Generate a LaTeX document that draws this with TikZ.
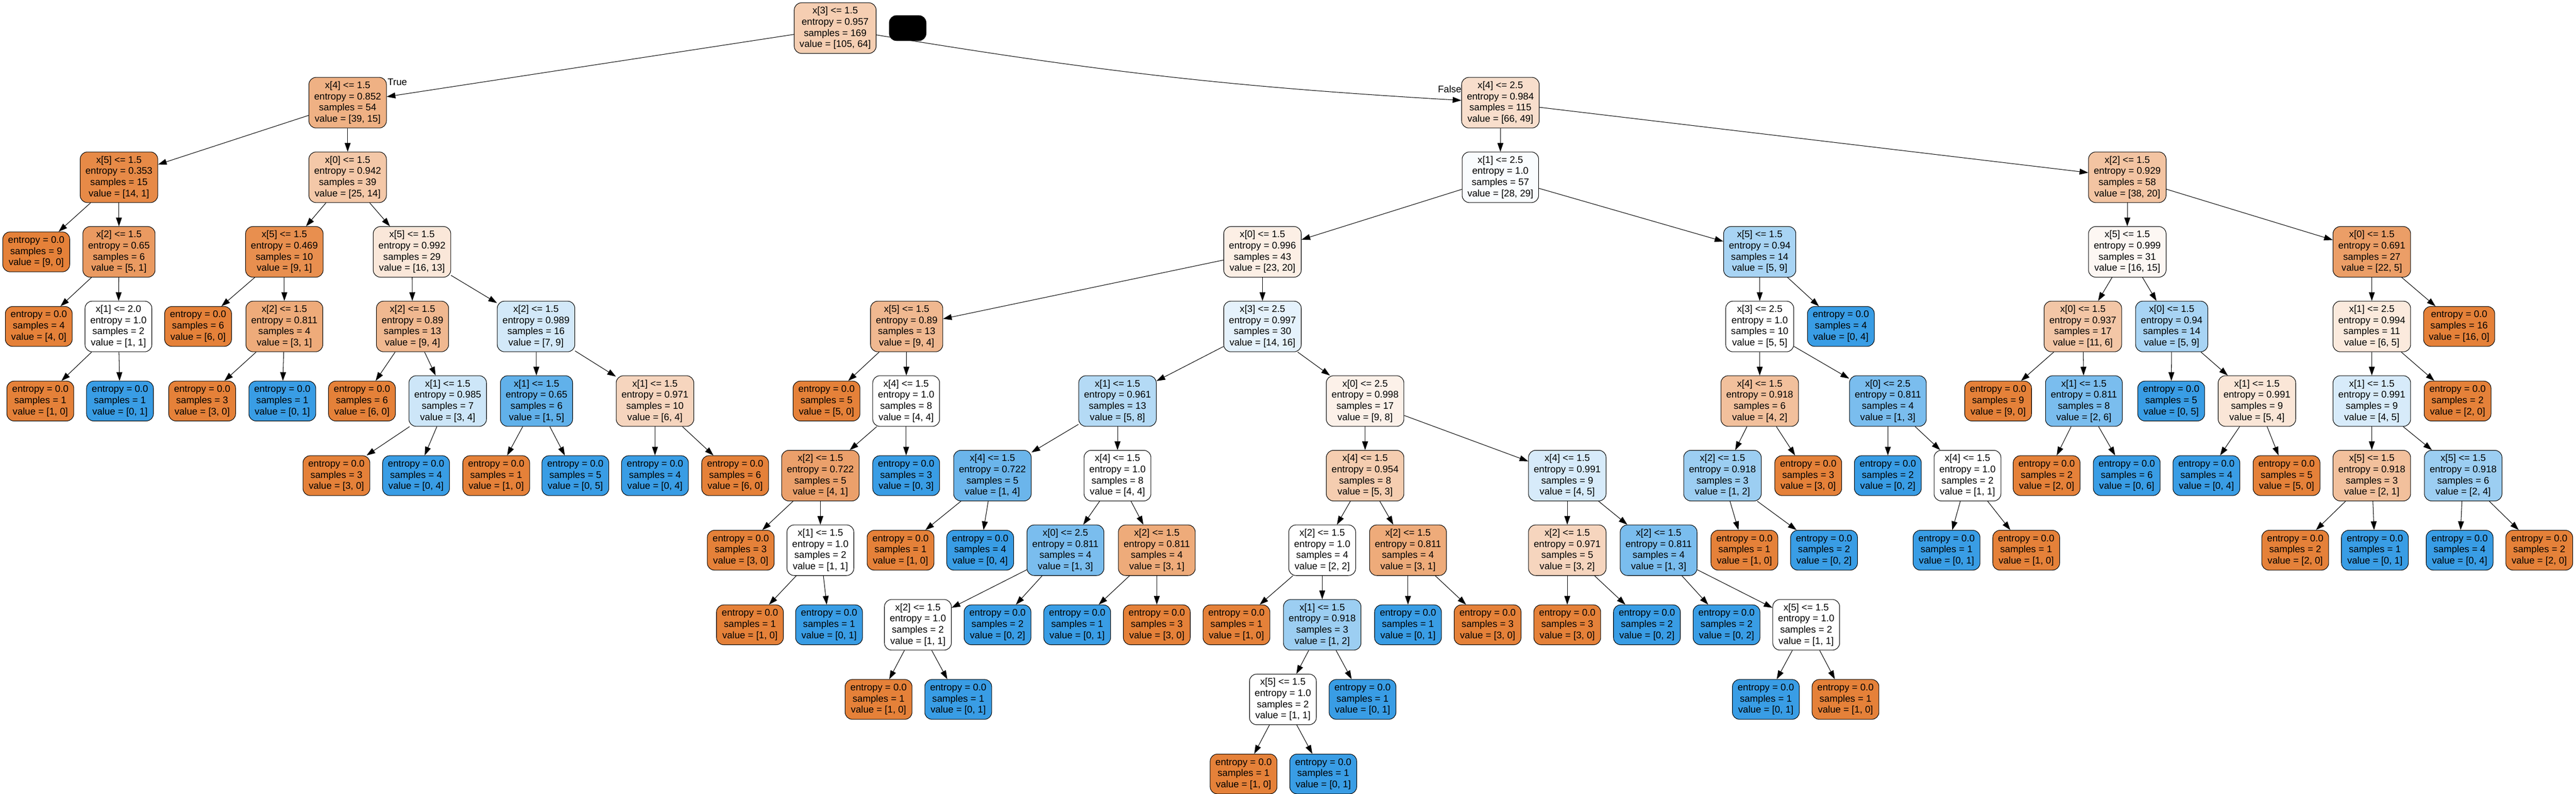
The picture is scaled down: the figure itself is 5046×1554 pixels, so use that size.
\documentclass[tikz,border=0pt]{standalone}
\usepackage{fontspec}
\setmainfont{Liberation Sans}
\usetikzlibrary{arrows.meta}
\definecolor{cO}{HTML}{E58139}
\definecolor{cB}{HTML}{399DE5}

\begin{document}
\begin{tikzpicture}[x=0.02cm, y=-0.02cm,
    box/.style={draw=black, line width=0.6pt, rounded corners=0.28cm, align=center,
        inner xsep=0.207cm, inner ysep=0pt, font=\fontsize{10.7}{12.5}\selectfont},
    split/.style={box, minimum height=1.98cm},
    leaf/.style={box, minimum height=1.56cm},
    side/.style={inner sep=0pt, font=\fontsize{10.7}{12.5}\selectfont},
    branch/.style={draw=black, line width=0.6pt, -{Triangle[length=0.34cm, width=0.23cm]}}]
    \useasboundingbox (0,0) rectangle (5046,1554);

    \node[split, fill=cO!39] (t) at (1636,55) {x[3] <= 1.5\\entropy = 0.957\\samples = 169\\value = [105, 64]};
    \node[box, fill=black, minimum width=1.44cm, minimum height=0.98cm] (mask) at (1778,55) {};

    \node[split, fill=cO!62] (tl) at (681,201) {x[4] <= 1.5\\entropy = 0.852\\samples = 54\\value = [39, 15]};
    \node[split, fill=cO!26] (tr) at (2939,201) {x[4] <= 2.5\\entropy = 0.984\\samples = 115\\value = [66, 49]};

    \node[split, fill=cO!93] (tll) at (233,347) {x[5] <= 1.5\\entropy = 0.353\\samples = 15\\value = [14, 1]};
    \node[split, fill=cO!44] (tlr) at (681,347) {x[0] <= 1.5\\entropy = 0.942\\samples = 39\\value = [25, 14]};
    \node[split, fill=cB!3] (trl) at (2939,347) {x[1] <= 2.5\\entropy = 1.0\\samples = 57\\value = [28, 29]};
    \node[split, fill=cO!47] (trr) at (4167,347) {x[2] <= 1.5\\entropy = 0.929\\samples = 58\\value = [38, 20]};

    \node[leaf, fill=cO] (tlll) at (71,493) {entropy = 0.0\\samples = 9\\value = [9, 0]};
    \node[split, fill=cO!80] (tllr) at (233,493) {x[2] <= 1.5\\entropy = 0.65\\samples = 6\\value = [5, 1]};
    \node[split, fill=cO!89] (tlrl) at (557,493) {x[5] <= 1.5\\entropy = 0.469\\samples = 10\\value = [9, 1]};
    \node[split, fill=cO!19] (tlrr) at (807,493) {x[5] <= 1.5\\entropy = 0.992\\samples = 29\\value = [16, 13]};
    \node[split, fill=cO!13] (trll) at (2473,493) {x[0] <= 1.5\\entropy = 0.996\\samples = 43\\value = [23, 20]};
    \node[split, fill=cB!44] (trlr) at (3447,493) {x[5] <= 1.5\\entropy = 0.94\\samples = 14\\value = [5, 9]};
    \node[split, fill=cO!6] (trrl) at (4167,493) {x[5] <= 1.5\\entropy = 0.999\\samples = 31\\value = [16, 15]};
    \node[split, fill=cO!77] (trrr) at (4646,493) {x[0] <= 1.5\\entropy = 0.691\\samples = 27\\value = [22, 5]};

    \node[leaf, fill=cO] (tllrl) at (76,639) {entropy = 0.0\\samples = 4\\value = [4, 0]};
    \node[split, fill=white] (tllrr) at (232,639) {x[1] <= 2.0\\entropy = 1.0\\samples = 2\\value = [1, 1]};
    \node[leaf, fill=cO] (tlrll) at (388,639) {entropy = 0.0\\samples = 6\\value = [6, 0]};
    \node[split, fill=cO!67] (tlrlr) at (557,639) {x[2] <= 1.5\\entropy = 0.811\\samples = 4\\value = [3, 1]};
    \node[split, fill=cO!56] (tlrrl) at (808,639) {x[2] <= 1.5\\entropy = 0.89\\samples = 13\\value = [9, 4]};
    \node[split, fill=cB!22] (tlrrr) at (1050,639) {x[2] <= 1.5\\entropy = 0.989\\samples = 16\\value = [7, 9]};
    \node[split, fill=cO!56] (trlll) at (1776,639) {x[5] <= 1.5\\entropy = 0.89\\samples = 13\\value = [9, 4]};
    \node[split, fill=cB!13] (trllr) at (2473,639) {x[3] <= 2.5\\entropy = 0.997\\samples = 30\\value = [14, 16]};
    \node[split, fill=white] (trlrl) at (3447,639) {x[3] <= 2.5\\entropy = 1.0\\samples = 10\\value = [5, 5]};
    \node[leaf, fill=cB] (trlrr) at (3606,639) {entropy = 0.0\\samples = 4\\value = [0, 4]};
    \node[split, fill=cO!45] (trrll) at (4080,639) {x[0] <= 1.5\\entropy = 0.937\\samples = 17\\value = [11, 6]};
    \node[split, fill=cB!44] (trrlr) at (4254,639) {x[0] <= 1.5\\entropy = 0.94\\samples = 14\\value = [5, 9]};
    \node[split, fill=cO!17] (trrrl) at (4646,639) {x[1] <= 2.5\\entropy = 0.994\\samples = 11\\value = [6, 5]};
    \node[leaf, fill=cO] (trrrr) at (4817,639) {entropy = 0.0\\samples = 16\\value = [16, 0]};

    \node[leaf, fill=cO] (tllrrl) at (79,785) {entropy = 0.0\\samples = 1\\value = [1, 0]};
    \node[leaf, fill=cB] (tllrrr) at (235,785) {entropy = 0.0\\samples = 1\\value = [0, 1]};
    \node[leaf, fill=cO] (tlrlrl) at (396,785) {entropy = 0.0\\samples = 3\\value = [3, 0]};
    \node[leaf, fill=cB] (tlrlrr) at (553,785) {entropy = 0.0\\samples = 1\\value = [0, 1]};
    \node[leaf, fill=cO] (tlrrll) at (709,785) {entropy = 0.0\\samples = 6\\value = [6, 0]};
    \node[split, fill=cB!25] (tlrrlr) at (877,785) {x[1] <= 1.5\\entropy = 0.985\\samples = 7\\value = [3, 4]};
    \node[split, fill=cB!80] (tlrrrl) at (1051,785) {x[1] <= 1.5\\entropy = 0.65\\samples = 6\\value = [1, 5]};
    \node[split, fill=cO!33] (tlrrrr) at (1283,785) {x[1] <= 1.5\\entropy = 0.971\\samples = 10\\value = [6, 4]};
    \node[leaf, fill=cO] (trllll) at (1619,785) {entropy = 0.0\\samples = 5\\value = [5, 0]};
    \node[split, fill=white] (trlllr) at (1775,785) {x[4] <= 1.5\\entropy = 1.0\\samples = 8\\value = [4, 4]};
    \node[split, fill=cB!38] (trllrl) at (2189,785) {x[1] <= 1.5\\entropy = 0.961\\samples = 13\\value = [5, 8]};
    \node[split, fill=cO!11] (trllrr) at (2674,785) {x[0] <= 2.5\\entropy = 0.998\\samples = 17\\value = [9, 8]};
    \node[split, fill=cO!50] (trlrll) at (3447,785) {x[4] <= 1.5\\entropy = 0.918\\samples = 6\\value = [4, 2]};
    \node[split, fill=cB!67] (trlrlr) at (3698,785) {x[0] <= 2.5\\entropy = 0.811\\samples = 4\\value = [1, 3]};
    \node[leaf, fill=cO] (trrlll) at (3914,785) {entropy = 0.0\\samples = 9\\value = [9, 0]};
    \node[split, fill=cB!67] (trrllr) at (4082,785) {x[1] <= 1.5\\entropy = 0.811\\samples = 8\\value = [2, 6]};
    \node[leaf, fill=cB] (trrlrl) at (4253,785) {entropy = 0.0\\samples = 5\\value = [0, 5]};
    \node[split, fill=cO!20] (trrlrr) at (4421,785) {x[1] <= 1.5\\entropy = 0.991\\samples = 9\\value = [5, 4]};
    \node[split, fill=cB!20] (trrrll) at (4646,785) {x[1] <= 1.5\\entropy = 0.991\\samples = 9\\value = [4, 5]};
    \node[leaf, fill=cO] (trrrlr) at (4814,785) {entropy = 0.0\\samples = 2\\value = [2, 0]};

    \node[leaf, fill=cO] (tlrrlrl) at (659,931) {entropy = 0.0\\samples = 3\\value = [3, 0]};
    \node[leaf, fill=cB] (tlrrlrr) at (815,931) {entropy = 0.0\\samples = 4\\value = [0, 4]};
    \node[leaf, fill=cO] (tlrrrll) at (972,931) {entropy = 0.0\\samples = 1\\value = [1, 0]};
    \node[leaf, fill=cB] (tlrrrlr) at (1127,931) {entropy = 0.0\\samples = 5\\value = [0, 5]};
    \node[leaf, fill=cB] (tlrrrrl) at (1283,931) {entropy = 0.0\\samples = 4\\value = [0, 4]};
    \node[leaf, fill=cO] (tlrrrrr) at (1440,931) {entropy = 0.0\\samples = 6\\value = [6, 0]};
    \node[split, fill=cO!75] (trlllrl) at (1607,931) {x[2] <= 1.5\\entropy = 0.722\\samples = 5\\value = [4, 1]};
    \node[leaf, fill=cB] (trlllrr) at (1775,931) {entropy = 0.0\\samples = 3\\value = [0, 3]};
    \node[split, fill=cB!75] (trllrll) at (1944,931) {x[4] <= 1.5\\entropy = 0.722\\samples = 5\\value = [1, 4]};
    \node[split, fill=white] (trllrlr) at (2189,931) {x[4] <= 1.5\\entropy = 1.0\\samples = 8\\value = [4, 4]};
    \node[split, fill=cO!40] (trllrrl) at (2674,931) {x[4] <= 1.5\\entropy = 0.954\\samples = 8\\value = [5, 3]};
    \node[split, fill=cB!20] (trllrrr) at (3070,931) {x[4] <= 1.5\\entropy = 0.991\\samples = 9\\value = [4, 5]};
    \node[split, fill=cB!50] (trlrlll) at (3374,931) {x[2] <= 1.5\\entropy = 0.918\\samples = 3\\value = [1, 2]};
    \node[leaf, fill=cO] (trlrllr) at (3542,931) {entropy = 0.0\\samples = 3\\value = [3, 0]};
    \node[leaf, fill=cB] (trlrlrl) at (3698,931) {entropy = 0.0\\samples = 2\\value = [0, 2]};
    \node[split, fill=white] (trlrlrr) at (3854,931) {x[4] <= 1.5\\entropy = 1.0\\samples = 2\\value = [1, 1]};
    \node[leaf, fill=cO] (trrllrl) at (4009,931) {entropy = 0.0\\samples = 2\\value = [2, 0]};
    \node[leaf, fill=cB] (trrllrr) at (4166,931) {entropy = 0.0\\samples = 6\\value = [0, 6]};
    \node[leaf, fill=cB] (trrlrrl) at (4322,931) {entropy = 0.0\\samples = 4\\value = [0, 4]};
    \node[leaf, fill=cO] (trrlrrr) at (4479,931) {entropy = 0.0\\samples = 5\\value = [5, 0]};
    \node[split, fill=cO!50] (trrrlll) at (4646,931) {x[5] <= 1.5\\entropy = 0.918\\samples = 3\\value = [2, 1]};
    \node[split, fill=cB!50] (trrrllr) at (4825,931) {x[5] <= 1.5\\entropy = 0.918\\samples = 6\\value = [2, 4]};

    \node[leaf, fill=cO] (trlllrll) at (1451,1077) {entropy = 0.0\\samples = 3\\value = [3, 0]};
    \node[split, fill=white] (trlllrlr) at (1607,1077) {x[1] <= 1.5\\entropy = 1.0\\samples = 2\\value = [1, 1]};
    \node[leaf, fill=cO] (trllrlll) at (1764,1077) {entropy = 0.0\\samples = 1\\value = [1, 0]};
    \node[leaf, fill=cB] (trllrllr) at (1920,1077) {entropy = 0.0\\samples = 4\\value = [0, 4]};
    \node[split, fill=cB!67] (trllrlrl) at (2087,1077) {x[0] <= 2.5\\entropy = 0.811\\samples = 4\\value = [1, 3]};
    \node[split, fill=cO!67] (trllrlrr) at (2266,1077) {x[2] <= 1.5\\entropy = 0.811\\samples = 4\\value = [3, 1]};
    \node[split, fill=white] (trllrrll) at (2590,1077) {x[2] <= 1.5\\entropy = 1.0\\samples = 4\\value = [2, 2]};
    \node[split, fill=cO!67] (trllrrlr) at (2758,1077) {x[2] <= 1.5\\entropy = 0.811\\samples = 4\\value = [3, 1]};
    \node[split, fill=cO!33] (trllrrrl) at (3070,1077) {x[2] <= 1.5\\entropy = 0.971\\samples = 5\\value = [3, 2]};
    \node[split, fill=cB!67] (trllrrrr) at (3249,1077) {x[2] <= 1.5\\entropy = 0.811\\samples = 4\\value = [1, 3]};
    \node[leaf, fill=cO] (trlrllll) at (3417,1077) {entropy = 0.0\\samples = 1\\value = [1, 0]};
    \node[leaf, fill=cB] (trlrlllr) at (3573,1077) {entropy = 0.0\\samples = 2\\value = [0, 2]};
    \node[leaf, fill=cB] (trlrlrrl) at (3813,1077) {entropy = 0.0\\samples = 1\\value = [0, 1]};
    \node[leaf, fill=cO] (trlrlrrr) at (3969,1077) {entropy = 0.0\\samples = 1\\value = [1, 0]};
    \node[leaf, fill=cO] (trrrllll) at (4496,1077) {entropy = 0.0\\samples = 2\\value = [2, 0]};
    \node[leaf, fill=cB] (trrrlllr) at (4652,1077) {entropy = 0.0\\samples = 1\\value = [0, 1]};
    \node[leaf, fill=cB] (trrrllrl) at (4818,1077) {entropy = 0.0\\samples = 4\\value = [0, 4]};
    \node[leaf, fill=cO] (trrrllrr) at (4974,1077) {entropy = 0.0\\samples = 2\\value = [2, 0]};

    \node[leaf, fill=cO] (trlllrlrl) at (1469,1223) {entropy = 0.0\\samples = 1\\value = [1, 0]};
    \node[leaf, fill=cB] (trlllrlrr) at (1624,1223) {entropy = 0.0\\samples = 1\\value = [0, 1]};
    \node[split, fill=white] (trllrlrll) at (1798,1223) {x[2] <= 1.5\\entropy = 1.0\\samples = 2\\value = [1, 1]};
    \node[leaf, fill=cB] (trllrlrlr) at (1954,1223) {entropy = 0.0\\samples = 2\\value = [0, 2]};
    \node[leaf, fill=cB] (trllrlrrl) at (2110,1223) {entropy = 0.0\\samples = 1\\value = [0, 1]};
    \node[leaf, fill=cO] (trllrlrrr) at (2266,1223) {entropy = 0.0\\samples = 3\\value = [3, 0]};
    \node[leaf, fill=cO] (trllrrlll) at (2422,1223) {entropy = 0.0\\samples = 1\\value = [1, 0]};
    \node[split, fill=cB!50] (trllrrllr) at (2590,1223) {x[1] <= 1.5\\entropy = 0.918\\samples = 3\\value = [1, 2]};
    \node[leaf, fill=cB] (trllrrlrl) at (2758,1223) {entropy = 0.0\\samples = 1\\value = [0, 1]};
    \node[leaf, fill=cO] (trllrrlrr) at (2914,1223) {entropy = 0.0\\samples = 3\\value = [3, 0]};
    \node[leaf, fill=cO] (trllrrrll) at (3070,1223) {entropy = 0.0\\samples = 3\\value = [3, 0]};
    \node[leaf, fill=cB] (trllrrrlr) at (3226,1223) {entropy = 0.0\\samples = 2\\value = [0, 2]};
    \node[leaf, fill=cB] (trllrrrrl) at (3382,1223) {entropy = 0.0\\samples = 2\\value = [0, 2]};
    \node[split, fill=white] (trllrrrrr) at (3538,1223) {x[5] <= 1.5\\entropy = 1.0\\samples = 2\\value = [1, 1]};

    \node[leaf, fill=cO] (trllrlrlll) at (1721,1369) {entropy = 0.0\\samples = 1\\value = [1, 0]};
    \node[leaf, fill=cB] (trllrlrllr) at (1877,1369) {entropy = 0.0\\samples = 1\\value = [0, 1]};
    \node[split, fill=white] (trllrrllrl) at (2513,1369) {x[5] <= 1.5\\entropy = 1.0\\samples = 2\\value = [1, 1]};
    \node[leaf, fill=cB] (trllrrllrr) at (2669,1369) {entropy = 0.0\\samples = 1\\value = [0, 1]};
    \node[leaf, fill=cB] (trllrrrrrl) at (3459,1369) {entropy = 0.0\\samples = 1\\value = [0, 1]};
    \node[leaf, fill=cO] (trllrrrrrr) at (3615,1369) {entropy = 0.0\\samples = 1\\value = [1, 0]};

    \node[leaf, fill=cO] (trllrrllrll) at (2436,1515) {entropy = 0.0\\samples = 1\\value = [1, 0]};
    \node[leaf, fill=cB] (trllrrllrlr) at (2592,1515) {entropy = 0.0\\samples = 1\\value = [0, 1]};

    \node[side, anchor=west] (yes) at (759,161) {True};
    \node[side, anchor=east] (no) at (2863,174) {False};

    \path (t) edge[branch] (tl) edge[branch, bend right=3] (tr);
    \path (tl) edge[branch] (tll) edge[branch] (tlr);
    \path (tr) edge[branch] (trl) edge[branch] (trr);
    \path (tll) edge[branch] (tlll) edge[branch] (tllr);
    \path (tlr) edge[branch] (tlrl) edge[branch] (tlrr);
    \path (trl) edge[branch] (trll) edge[branch] (trlr);
    \path (trr) edge[branch] (trrl) edge[branch] (trrr);
    \path (tllr) edge[branch] (tllrl) edge[branch] (tllrr);
    \path (tlrl) edge[branch] (tlrll) edge[branch] (tlrlr);
    \path (tlrr) edge[branch] (tlrrl) edge[branch] (tlrrr);
    \path (trll) edge[branch] (trlll) edge[branch] (trllr);
    \path (trlr) edge[branch] (trlrl) edge[branch] (trlrr);
    \path (trrl) edge[branch] (trrll) edge[branch] (trrlr);
    \path (trrr) edge[branch] (trrrl) edge[branch] (trrrr);
    \path (tllrr) edge[branch] (tllrrl) edge[branch] (tllrrr);
    \path (tlrlr) edge[branch] (tlrlrl) edge[branch] (tlrlrr);
    \path (tlrrl) edge[branch] (tlrrll) edge[branch] (tlrrlr);
    \path (tlrrr) edge[branch] (tlrrrl) edge[branch] (tlrrrr);
    \path (trlll) edge[branch] (trllll) edge[branch] (trlllr);
    \path (trllr) edge[branch] (trllrl) edge[branch] (trllrr);
    \path (trlrl) edge[branch] (trlrll) edge[branch] (trlrlr);
    \path (trrll) edge[branch] (trrlll) edge[branch] (trrllr);
    \path (trrlr) edge[branch] (trrlrl) edge[branch] (trrlrr);
    \path (trrrl) edge[branch] (trrrll) edge[branch] (trrrlr);
    \path (tlrrlr) edge[branch] (tlrrlrl) edge[branch] (tlrrlrr);
    \path (tlrrrl) edge[branch] (tlrrrll) edge[branch] (tlrrrlr);
    \path (tlrrrr) edge[branch] (tlrrrrl) edge[branch] (tlrrrrr);
    \path (trlllr) edge[branch] (trlllrl) edge[branch] (trlllrr);
    \path (trllrl) edge[branch] (trllrll) edge[branch] (trllrlr);
    \path (trllrr) edge[branch] (trllrrl) edge[branch] (trllrrr);
    \path (trlrll) edge[branch] (trlrlll) edge[branch] (trlrllr);
    \path (trlrlr) edge[branch] (trlrlrl) edge[branch] (trlrlrr);
    \path (trrllr) edge[branch] (trrllrl) edge[branch] (trrllrr);
    \path (trrlrr) edge[branch] (trrlrrl) edge[branch] (trrlrrr);
    \path (trrrll) edge[branch] (trrrlll) edge[branch] (trrrllr);
    \path (trlllrl) edge[branch] (trlllrll) edge[branch] (trlllrlr);
    \path (trllrll) edge[branch] (trllrlll) edge[branch] (trllrllr);
    \path (trllrlr) edge[branch] (trllrlrl) edge[branch] (trllrlrr);
    \path (trllrrl) edge[branch] (trllrrll) edge[branch] (trllrrlr);
    \path (trllrrr) edge[branch] (trllrrrl) edge[branch] (trllrrrr);
    \path (trlrlll) edge[branch] (trlrllll) edge[branch] (trlrlllr);
    \path (trlrlrr) edge[branch] (trlrlrrl) edge[branch] (trlrlrrr);
    \path (trrrlll) edge[branch] (trrrllll) edge[branch] (trrrlllr);
    \path (trrrllr) edge[branch] (trrrllrl) edge[branch] (trrrllrr);
    \path (trlllrlr) edge[branch] (trlllrlrl) edge[branch] (trlllrlrr);
    \path (trllrlrl) edge[branch] (trllrlrll) edge[branch] (trllrlrlr);
    \path (trllrlrr) edge[branch] (trllrlrrl) edge[branch] (trllrlrrr);
    \path (trllrrll) edge[branch] (trllrrlll) edge[branch] (trllrrllr);
    \path (trllrrlr) edge[branch] (trllrrlrl) edge[branch] (trllrrlrr);
    \path (trllrrrl) edge[branch] (trllrrrll) edge[branch] (trllrrrlr);
    \path (trllrrrr) edge[branch] (trllrrrrl) edge[branch] (trllrrrrr);
    \path (trllrlrll) edge[branch] (trllrlrlll) edge[branch] (trllrlrllr);
    \path (trllrrllr) edge[branch] (trllrrllrl) edge[branch] (trllrrllrr);
    \path (trllrrrrr) edge[branch] (trllrrrrrl) edge[branch] (trllrrrrrr);
    \path (trllrrllrl) edge[branch] (trllrrllrll) edge[branch] (trllrrllrlr);
\end{tikzpicture}
\end{document}
